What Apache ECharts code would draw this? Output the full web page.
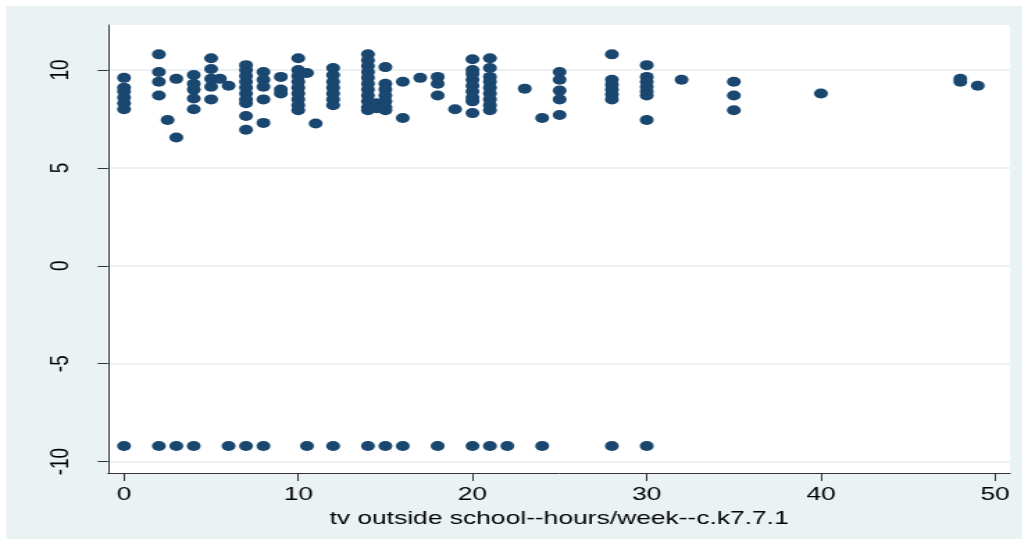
<!DOCTYPE html>
<html><head><meta charset="utf-8">
<script src="https://cdn.jsdelivr.net/npm/echarts@6/dist/echarts.min.js"></script>
<style>
html,body{margin:0;padding:0;background:#fff;width:1028px;height:545px;overflow:hidden;}
#bg{position:absolute;left:6px;top:6px;width:1016px;height:533px;background:#EAF2F3;}
#chart{position:absolute;left:0;top:0;width:740px;height:545px;transform:scaleX(1.3892);transform-origin:0 0;}
</style></head>
<body><div id="bg"></div><div id="chart"></div>
<script>
// Tick labels
const xTicks = [0, 10, 20, 30, 40, 50];
const yTicks = [-10, -5, 0, 5, 10];
const xTitle = 'tv outside school--hours/week--c.k7.7.1';

// Upper cluster: hours of TV (x) and the outcome values observed at each x
const upperX = [0, 2, 2.5, 3, 4, 5, 5.5, 6, 7, 8, 9, 10, 10.5, 11, 12, 14, 14.5, 15, 16, 17, 18, 19, 20, 21, 23, 24, 25, 28, 30, 32, 35, 40, 48, 49];
const upperY = [
  [9.6, 9.1, 8.9, 8.6, 8.3, 8.0],
  [10.8, 9.9, 9.4, 8.7],
  [7.45],
  [9.55, 6.55],
  [9.75, 9.3, 9.0, 8.55, 8.0],
  [10.6, 10.05, 9.55, 9.15, 8.5],
  [9.55],
  [9.2],
  [10.25, 10.0, 9.7, 9.4, 9.1, 8.8, 8.5, 8.3, 7.65, 6.95],
  [9.9, 9.5, 9.15, 8.5, 7.3],
  [9.65, 9.0, 8.8],
  [10.6, 10.0, 9.7, 9.4, 9.1, 8.8, 8.5, 8.2, 7.95],
  [9.85],
  [7.27],
  [10.1, 9.75, 9.4, 9.1, 8.8, 8.5, 8.2],
  [10.8, 10.5, 10.2, 9.9, 9.6, 9.3, 9.0, 8.7, 8.4, 8.1, 7.95],
  [8.3, 8.05],
  [10.15, 9.3, 9.0, 8.7, 8.4, 8.1, 7.95],
  [9.4, 7.55],
  [9.6],
  [9.65, 9.3, 8.7],
  [8.0],
  [10.55, 10.0, 9.8, 9.5, 9.2, 8.9, 8.6, 8.4, 7.8],
  [10.6, 10.1, 9.65, 9.4, 9.1, 8.8, 8.5, 8.2, 7.95],
  [9.05],
  [7.55],
  [9.9, 9.5, 8.95, 8.5, 7.7],
  [10.8, 9.5, 9.25, 9.0, 8.75, 8.5],
  [10.25, 9.65, 9.4, 9.15, 8.9, 8.7, 7.45],
  [9.5],
  [9.4, 8.7, 7.95],
  [8.8],
  [9.55, 9.4],
  [9.2]
];

// Lower row: missing-value code and the hours at which it occurs
const missingValue = -9.2;
const missingX = [0, 2, 3, 4, 6, 7, 8, 10.5, 12, 14, 15, 16, 18, 20, 21, 22, 24, 28, 30];

const points = [];
upperX.forEach((x, i) => upperY[i].forEach(y => points.push([x, y])));
missingX.forEach(x => points.push([x, missingValue]));

const txt = '#000';
const font = "'Liberation Sans', Arial, sans-serif";
const chart = echarts.init(document.getElementById('chart'), null, {renderer: 'canvas'});
chart.setOption({
  backgroundColor: 'transparent',
  animation: false,
  grid: {left: 77.75, top: 25, width: 649.4, height: 448, show: true, backgroundColor: '#fff', borderWidth: 0},
  xAxis: {
    type: 'value', min: -0.92, max: 50.86,
    name: xTitle, nameLocation: 'middle', nameGap: 32,
    nameTextStyle: {color: txt, fontSize: 19, fontFamily: font},
    axisLine: {show: true, onZero: false, lineStyle: {color: '#333', width: 1}},
    axisTick: {show: true, length: 8, customValues: xTicks, lineStyle: {color: '#333'}},
    axisLabel: {customValues: xTicks, color: txt, fontSize: 19, fontFamily: font, margin: 12},
    splitLine: {show: false}
  },
  yAxis: {
    type: 'value', min: -10.58, max: 12.3,
    axisLine: {show: true, onZero: false, lineStyle: {color: '#333', width: 1}},
    axisTick: {show: true, length: 7.5, customValues: yTicks, lineStyle: {color: '#333'}},
    axisLabel: {customValues: yTicks, rotate: 90, color: txt, fontSize: 19, fontFamily: font, margin: 24},
    splitLine: {show: true, lineStyle: {color: '#E6EEF0', width: 1.5}}
  },
  series: [{
    type: 'scatter',
    data: points,
    symbol: 'circle',
    symbolSize: 10,
    itemStyle: {color: '#1A476F', opacity: 1}
  }]
});
</script>
</body></html>
